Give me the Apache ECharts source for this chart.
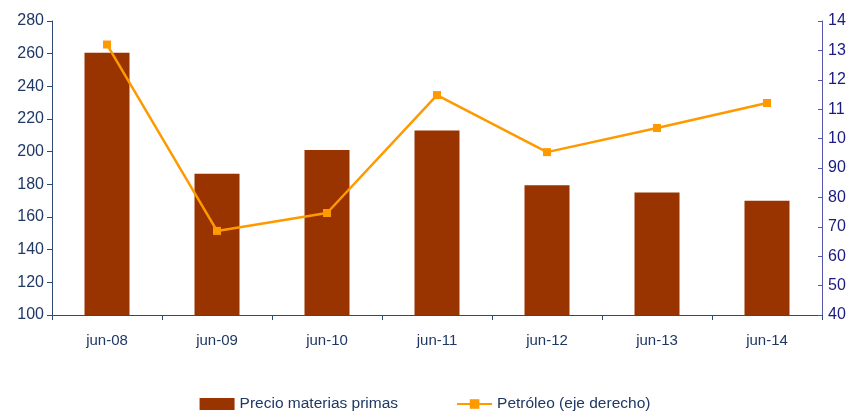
<!DOCTYPE html>
<html>
<head>
<meta charset="utf-8">
<script src="https://cdn.jsdelivr.net/npm/echarts@6/dist/echarts.min.js"></script>
<style>
  html, body { margin: 0; padding: 0; background: #fff; }
  #chart { width: 850px; height: 414px; }
</style>
</head>
<body>
<div id="chart"></div>
<script>
// categorías y series
const categories = ['jun-08', 'jun-09', 'jun-10', 'jun-11', 'jun-12', 'jun-13', 'jun-14']
const materiasPrimas = [260.5, 186.5, 201, 213, 179.5, 175, 170]
const petroleo = [132, 68.6, 74.7, 114.8, 95.4, 103.6, 112.1]
// etiquetas del eje derecho tal y como aparecen (recortadas)
const rightTickLabels = { 40: '40', 50: '50', 60: '60', 70: '70', 80: '80', 90: '90', 100: '10', 110: '11', 120: '12', 130: '13', 140: '14' }

const font = 'Liberation Sans, Arial, sans-serif'
const chart = echarts.init(document.getElementById('chart'))

chart.setOption({
  animation: false,
  grid: { left: 52, right: 28, top: 21, bottom: 99, containLabel: false },
  legend: {
    top: 396,
    left: 'center',
    padding: 0,
    itemWidth: 35,
    itemHeight: 12,
    itemGap: 58,
    textStyle: { fontFamily: font, fontSize: 15.5, color: '#1F3864' },
    data: [
      { name: 'Precio materias primas', icon: 'rect' },
      { name: 'Petróleo (eje derecho)' }
    ]
  },
  xAxis: {
    type: 'category',
    data: categories,
    axisLine: { lineStyle: { color: '#2E4A72', width: 1 } },
    axisTick: { show: true, alignWithLabel: false, length: 5, inside: false, lineStyle: { color: '#2E4A72' } },
    axisLabel: { margin: 18, fontFamily: font, fontSize: 15, color: '#1F3864' }
  },
  yAxis: [
    {
      type: 'value',
      min: 100,
      max: 280,
      interval: 20,
      splitLine: { show: false },
      axisLine: { show: true, lineStyle: { color: '#2E4A72' } },
      axisTick: { show: true, length: 5, lineStyle: { color: '#2E4A72' } },
      axisLabel: { margin: 8, fontFamily: font, fontSize: 16, color: '#1F3864' }
    },
    {
      type: 'value',
      min: 40,
      max: 140,
      interval: 10,
      position: 'right',
      splitLine: { show: false },
      axisLine: { show: true, lineStyle: { color: '#5555AA' } },
      axisTick: { show: true, inside: true, length: 4, lineStyle: { color: '#5555AA' } },
      axisLabel: {
        margin: 6,
        fontFamily: font,
        fontSize: 16,
        color: '#1A1A80',
        formatter: (v) => rightTickLabels[v] ?? String(v)
      }
    }
  ],
  series: [
    {
      name: 'Precio materias primas',
      type: 'bar',
      data: materiasPrimas,
      barWidth: 45,
      itemStyle: { color: '#993300' },
      yAxisIndex: 0
    },
    {
      name: 'Petróleo (eje derecho)',
      type: 'line',
      data: petroleo,
      yAxisIndex: 1,
      symbol: 'rect',
      symbolSize: 8,
      itemStyle: { color: '#FF9900' },
      lineStyle: { color: '#FF9900', width: 2.5 }
    }
  ]
})
</script>
</body>
</html>
